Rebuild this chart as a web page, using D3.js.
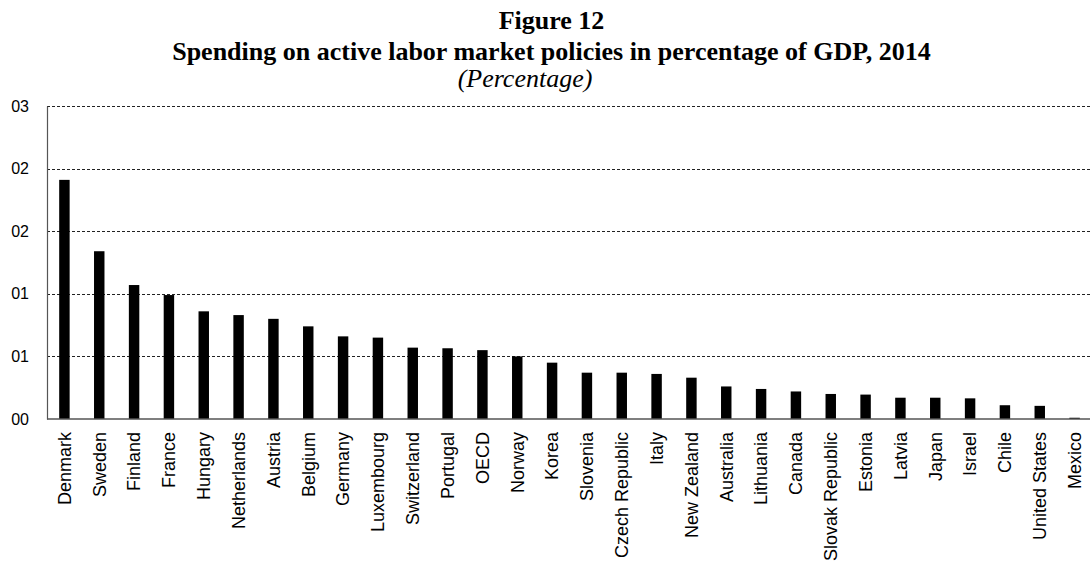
<!DOCTYPE html>
<html>
<head>
<meta charset="utf-8">
<script src="https://cdn.jsdelivr.net/npm/d3@7"></script>
<style>
  html, body { margin: 0; padding: 0; background: #fff; }
  svg { display: block; }
</style>
</head>
<body>
<svg id="chart" width="1090" height="563"></svg>
<script>
// Spending on active labour market policies, % of GDP, 2014
const countries = [
  "Denmark", "Sweden", "Finland", "France", "Hungary", "Netherlands", "Austria",
  "Belgium", "Germany", "Luxembourg", "Switzerland", "Portugal", "OECD", "Norway",
  "Korea", "Slovenia", "Czech Republic", "Italy", "New Zealand", "Australia",
  "Lithuania", "Canada", "Slovak Republic", "Estonia", "Latvia", "Japan", "Israel",
  "Chile", "United States", "Mexico"
];
const spending = [
  1.91, 1.34, 1.07, 0.99, 0.86, 0.83, 0.80,
  0.74, 0.66, 0.65, 0.57, 0.565, 0.55, 0.50,
  0.45, 0.37, 0.37, 0.36, 0.33, 0.26,
  0.24, 0.22, 0.20, 0.195, 0.17, 0.17, 0.165,
  0.11, 0.105, 0.01
];
const tickValues = [0, 0.5, 1, 1.5, 2, 2.5];
const tickLabels = ["00", "01", "01", "02", "02", "03"];
const titleLines = ["Figure 12", "Spending on active labor market policies in percentage of GDP, 2014"];
const subtitle = "(Percentage)";

const svg = d3.select("#chart");
const plotLeft = 47, plotRight = 1092, plotTop = 106, plotBottom = 419;

const x = d3.scaleBand()
  .domain(countries)
  .range([plotLeft, plotRight])
  .paddingInner(0.7)
  .paddingOuter(0.35);

const y = d3.scaleLinear()
  .domain([0, 2.5])
  .range([plotBottom, plotTop]);

// Title block
const title = svg.append("g")
  .attr("font-family", "'Liberation Serif', 'Times New Roman', serif")
  .attr("font-size", 26)
  .attr("fill", "#000");
title.append("text")
  .attr("x", 551.5).attr("y", 29)
  .attr("text-anchor", "middle").attr("font-weight", "bold")
  .text(titleLines[0]);
title.append("text")
  .attr("x", 551.5).attr("y", 60)
  .attr("text-anchor", "middle").attr("font-weight", "bold")
  .text(titleLines[1]);
title.append("text")
  .attr("x", 525).attr("y", 87)
  .attr("text-anchor", "middle").attr("font-style", "italic")
  .text(subtitle);

// Dashed gridlines
svg.append("g")
  .selectAll("line")
  .data(tickValues.filter(d => d > 0))
  .join("line")
  .attr("x1", plotLeft).attr("x2", 1090)
  .attr("y1", d => Math.round(y(d)) + 0.5)
  .attr("y2", d => Math.round(y(d)) + 0.5)
  .attr("stroke", "#222")
  .attr("stroke-width", 1)
  .attr("stroke-dasharray", "3,2");

// Bars
svg.append("g")
  .selectAll("rect")
  .data(countries)
  .join("rect")
  .attr("x", d => x(d))
  .attr("width", x.bandwidth())
  .attr("y", (d, i) => y(spending[i]))
  .attr("height", (d, i) => y(0) - y(spending[i]))
  .attr("fill", "#000");

// Y axis
const yAxis = svg.append("g")
  .attr("transform", `translate(${plotLeft},0)`)
  .call(d3.axisLeft(y)
    .tickValues(tickValues)
    .tickFormat((d, i) => tickLabels[i])
    .tickSize(0)
    .tickPadding(18));
yAxis.select(".domain").attr("stroke", "#555").attr("stroke-width", 1.2);
yAxis.selectAll("text")
  .attr("font-family", "'Liberation Sans', Arial, sans-serif")
  .attr("font-size", 16)
  .attr("fill", "#000");

// X axis with rotated country names
const xAxis = svg.append("g")
  .attr("transform", `translate(0,${plotBottom})`)
  .call(d3.axisBottom(x).tickSize(0).tickSizeOuter(0));
xAxis.select(".domain")
  .attr("d", `M${plotLeft},0H1090`)
  .attr("stroke", "#555").attr("stroke-width", 1.5);
xAxis.selectAll("text")
  .attr("font-family", "'Liberation Sans', Arial, sans-serif")
  .attr("font-size", 18)
  .attr("fill", "#000")
  .attr("transform", "rotate(-90)")
  .attr("text-anchor", "end")
  .attr("x", -13)
  .attr("y", 0)
  .attr("dy", "0.35em");
</script>
</body>
</html>
